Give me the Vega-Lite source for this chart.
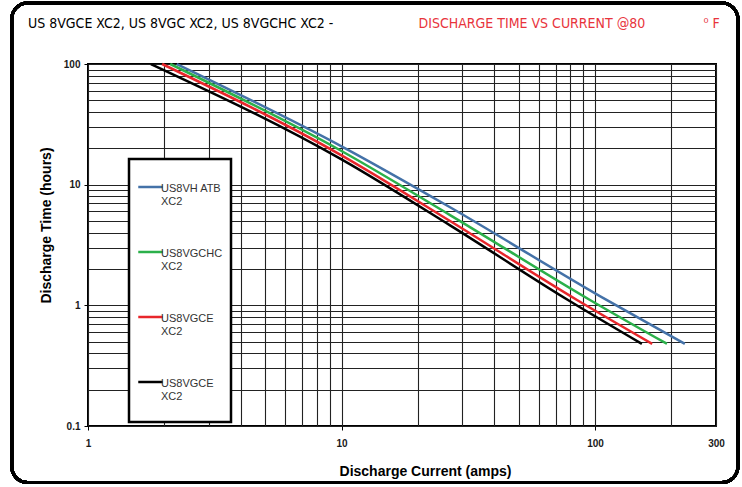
{
  "$schema": "https://vega.github.io/schema/vega-lite/v6.json",
  "width": 628,
  "height": 362,
  "autosize": "none",
  "padding": {"left": 88, "top": 64, "right": 26, "bottom": 61},
  "background": "white",
  "title": {
    "text": "US 8VGCE XC2, US 8VGC XC2, US 8VGCHC XC2 -",
    "anchor": "start",
    "frame": "group",
    "dx": -60,
    "offset": -40,
    "font": "DejaVu Sans Condensed, Liberation Sans",
    "fontSize": 14,
    "fontWeight": "normal",
    "color": "black",
    "baseline": "alphabetic"
  },
  "data": {
    "values": [
      {"series": "US8VH ATB XC2", "current": 2.24, "hours": 100},
      {"series": "US8VH ATB XC2", "current": 10, "hours": 20.8},
      {"series": "US8VH ATB XC2", "current": 26.8, "hours": 6.5},
      {"series": "US8VH ATB XC2", "current": 111, "hours": 1.108},
      {"series": "US8VH ATB XC2", "current": 226, "hours": 0.48},
      {"series": "US8VGCHC XC2", "current": 2.11, "hours": 100},
      {"series": "US8VGCHC XC2", "current": 10, "hours": 19.0},
      {"series": "US8VGCHC XC2", "current": 26.8, "hours": 5.6},
      {"series": "US8VGCHC XC2", "current": 95.5, "hours": 1.108},
      {"series": "US8VGCHC XC2", "current": 192, "hours": 0.48},
      {"series": "US8VGCE XC2", "current": 1.96, "hours": 100},
      {"series": "US8VGCE XC2", "current": 10, "hours": 17.5},
      {"series": "US8VGCE XC2", "current": 26.8, "hours": 5.0},
      {"series": "US8VGCE XC2", "current": 84.9, "hours": 1.108},
      {"series": "US8VGCE XC2", "current": 168, "hours": 0.48},
      {"series": "US8VGCE XC2 ", "current": 1.77, "hours": 100},
      {"series": "US8VGCE XC2 ", "current": 10, "hours": 16.2},
      {"series": "US8VGCE XC2 ", "current": 26.8, "hours": 4.6},
      {"series": "US8VGCE XC2 ", "current": 78.2, "hours": 1.108},
      {"series": "US8VGCE XC2 ", "current": 153, "hours": 0.48}
    ]
  },
  "layer": [
    {
      "mark": {"type": "rect", "fill": null, "fillOpacity": 0, "stroke": "black", "strokeWidth": 3, "cornerRadius": 16, "clip": false},
      "encoding": {
        "x": {"datum": 0.5, "type": "quantitative", "axis": null},
        "x2": {"datum": 366},
        "y": {"datum": 320, "type": "quantitative", "axis": null},
        "y2": {"datum": 0.034}
      }
    },
    {
      "transform": [{"filter": {"field": "series", "oneOf": ["US8VH ATB XC2", "US8VGCHC XC2"]}}],
      "mark": {"type": "line", "strokeWidth": 2.5, "interpolate": "monotone"},
      "encoding": {
        "x": {
          "field": "current", "type": "quantitative",
          "scale": {"type": "log", "domain": [1, 300], "nice": false},
          "axis": {
            "orient": "bottom",
            "title": "Discharge Current (amps)",
            "values": [1,2,3,4,5,6,7,8,9,10,20,30,40,50,60,70,80,90,100,200,300],
            "format": "~g",
            "labelExpr": "indexof([1,10,100,300], datum.value) >= 0 ? datum.label : ''",
            "grid": true, "gridColor": "#222222", "gridWidth": 1.1, "gridOpacity": 1,
            "domain": false,
            "ticks": true, "tickSize": 4, "tickColor": "black",
            "tickOpacity": {"condition": {"test": "indexof([1,10,100], datum.value) >= 0", "value": 1}, "value": 0},
            "labelFont": "Liberation Sans", "labelFontSize": 10, "labelFontWeight": "bold", "labelColor": "#1a1a1a",
            "labelPadding": 8, "labelFlush": false, "labelOverlap": false,
            "titleFont": "Liberation Sans", "titleFontSize": 14, "titleFontWeight": "bold", "titleColor": "black",
            "titleX": 337, "titleY": 49, "titleBaseline": "alphabetic", "titleAlign": "center"
          }
        },
        "y": {
          "field": "hours", "type": "quantitative",
          "scale": {"type": "log", "domain": [0.1, 100], "nice": false},
          "axis": {
            "orient": "left",
            "title": "Discharge Time (hours)",
            "values": [0.1,0.2,0.3,0.4,0.5,0.6,0.7,0.8,0.9,1,2,3,4,5,6,7,8,9,10,20,30,40,50,60,70,80,90,100],
            "format": "~g",
            "labelExpr": "indexof([0.1,1,10,100], datum.value) >= 0 ? datum.label : ''",
            "grid": true, "gridColor": "#222222", "gridWidth": 1.1, "gridOpacity": 1,
            "domain": false,
            "ticks": true, "tickSize": 4, "tickColor": "black",
            "tickOpacity": {"condition": {"test": "indexof([0.1,1,10,100], datum.value) >= 0", "value": 1}, "value": 0},
            "labelFont": "Liberation Sans", "labelFontSize": 10, "labelFontWeight": "bold", "labelColor": "#1a1a1a",
            "labelPadding": 4, "labelFlush": false, "labelOverlap": false,
            "titleFont": "Liberation Sans", "titleFontSize": 14, "titleFontWeight": "bold", "titleColor": "black",
            "titleX": -38, "titleY": 161, "titleAngle": -90, "titleBaseline": "alphabetic", "titleAlign": "center"
          }
        },
        "color": {
          "field": "series", "type": "nominal",
          "scale": {
            "domain": ["US8VH ATB XC2", "US8VGCHC XC2", "US8VGCE XC2", "US8VGCE XC2 "],
            "range": ["#4472a8", "#2bb04a", "#e8262b", "#000000"]
          },
          "legend": {
            "orient": "none", "legendX": 41, "legendY": 95,
            "title": null,
            "symbolType": "M-1,-0.49H1", "symbolSize": 600, "symbolStrokeWidth": 2.5,
            "labelExpr": "[slice(trim(datum.label), 0, -4), 'XC2']",
            "labelFont": "Liberation Sans", "labelFontSize": 11, "labelColor": "#333333",
            "labelLimit": 200, "labelOffset": -3,
            "clipHeight": 52,
            "rowPadding": 13, "padding": 8,
            "strokeColor": "black", "fillColor": "white",
            "encode": {"labels": {"update": {"dy": {"value": -4}}}}
          }
        }
      }
    },
    {
      "transform": [{"filter": {"field": "series", "oneOf": ["US8VGCE XC2", "US8VGCE XC2 "]}}],
      "mark": {"type": "line", "strokeWidth": 2.5, "interpolate": "monotone"},
      "encoding": {
        "x": {
          "field": "current", "type": "quantitative",
          "scale": {"type": "log", "domain": [1, 300], "nice": false},
          "axis": {
            "orient": "top",
            "title": "DISCHARGE TIME VS CURRENT @80",
            "labels": false, "ticks": false, "domain": false, "grid": false,
            "titleFont": "DejaVu Sans Condensed, Liberation Sans",
            "titleFontSize": 14, "titleFontWeight": "normal", "titleColor": "#e8343c",
            "titleX": 330, "titleY": -37, "titleAlign": "left", "titleBaseline": "alphabetic", "titleAngle": 0
          }
        },
        "y": {
          "field": "hours", "type": "quantitative",
          "scale": {"type": "log", "domain": [0.1, 100], "nice": false},
          "axis": {
            "orient": "right",
            "title": "⁰ F",
            "labels": false, "ticks": false, "domain": false, "grid": false,
            "titleFont": "DejaVu Sans Condensed, Liberation Sans",
            "titleFontSize": 14, "titleFontWeight": "normal", "titleColor": "#e8343c",
            "titleX": -13, "titleY": -37, "titleAlign": "left", "titleBaseline": "alphabetic", "titleAngle": 0
          }
        },
        "color": {
          "field": "series", "type": "nominal",
          "scale": {
            "domain": ["US8VH ATB XC2", "US8VGCHC XC2", "US8VGCE XC2", "US8VGCE XC2 "],
            "range": ["#4472a8", "#2bb04a", "#e8262b", "#000000"]
          }
        }
      }
    }
  ],
  "resolve": {"axis": {"x": "independent", "y": "independent"}},
  "config": {
    "view": {"stroke": "black", "strokeWidth": 2},
    "legend": {"strokeWidth": 2.5}
  }
}
